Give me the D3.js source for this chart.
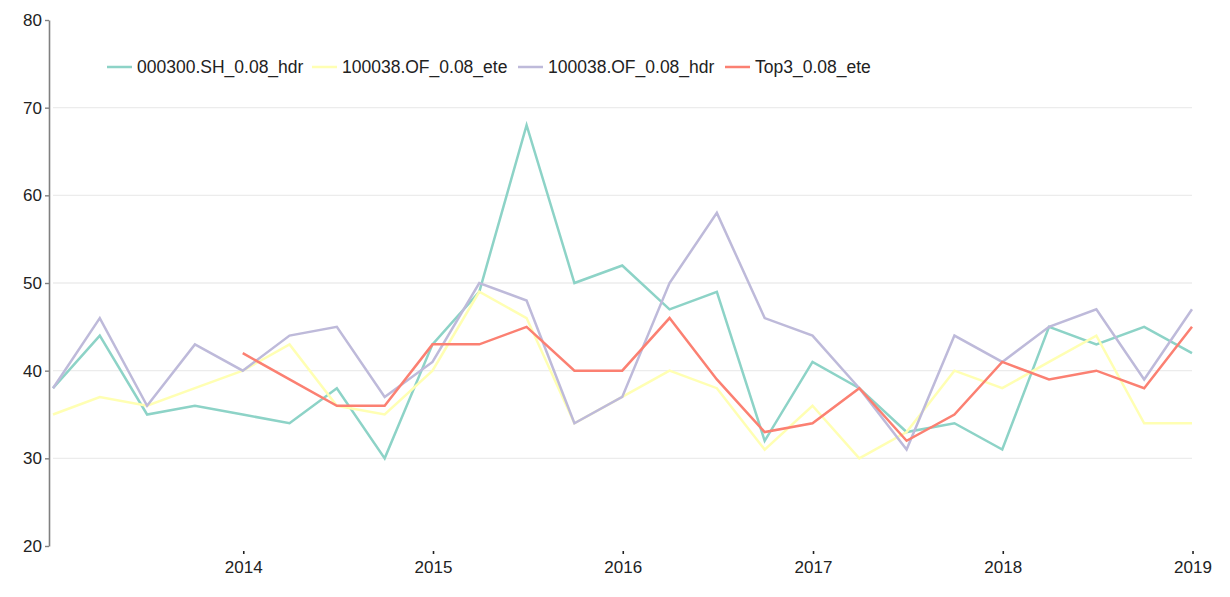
<!DOCTYPE html>
<html>
<head>
<meta charset="utf-8">
<script src="https://cdn.jsdelivr.net/npm/d3@7/dist/d3.min.js"></script>
<style>
  html, body { margin: 0; padding: 0; background: #fff; }
  svg { display: block; font-family: "Liberation Sans", Arial, sans-serif; }
</style>
</head>
<body>
<svg id="chart" width="1230" height="597"></svg>
<script>
// ---- data ----
const dates = [
  "2012-12-31","2013-03-31","2013-06-30","2013-09-30",
  "2013-12-31","2014-03-31","2014-06-30","2014-09-30",
  "2014-12-31","2015-03-31","2015-06-30","2015-09-30",
  "2015-12-31","2016-03-31","2016-06-30","2016-09-30",
  "2016-12-31","2017-03-31","2017-06-30","2017-09-30",
  "2017-12-31","2018-03-31","2018-06-30","2018-09-30",
  "2018-12-31"
];
const seriesNames = ["000300.SH_0.08_hdr", "100038.OF_0.08_ete", "100038.OF_0.08_hdr", "Top3_0.08_ete"];
const sh_hdr   = [38, 44, 35, 36, 35, 34, 38, 30, 43, 49, 68, 50, 52, 47, 49, 32, 41, 38, 33, 34, 31, 45, 43, 45, 42];
const of_ete   = [35, 37, 36, 38, 40, 43, 36, 35, 40, 49, 46, 34, 37, 40, 38, 31, 36, 30, 33, 40, 38, 41, 44, 34, 34];
const of_hdr   = [38, 46, 36, 43, 40, 44, 45, 37, 41, 50, 48, 34, 37, 50, 58, 46, 44, 38, 31, 44, 41, 45, 47, 39, 47];
const top3_ete = [null, null, null, null, 42, 39, 36, 36, 43, 43, 45, 40, 40, 46, 39, 33, 34, 38, 32, 35, 41, 39, 40, 38, 45];
const colors = ["#8DD3C7", "#FFFFB3", "#BEBADA", "#FB8072"];
const yTicks = [20, 30, 40, 50, 60, 70, 80];
const gridValues = [30, 40, 50, 60, 70];
const xTickYears = [2014, 2015, 2016, 2017, 2018, 2019];

// ---- chart ----
const parse = d3.timeParse("%Y-%m-%d");
const dts = dates.map(parse);
const allSeries = [sh_hdr, of_ete, of_hdr, top3_ete];

const svg = d3.select("#chart");
const x = d3.scaleTime().domain([dts[0], dts[dts.length - 1]]).range([53, 1192]);
const y = d3.scaleLinear().domain([20, 80]).range([546, 20]);

// gridlines
svg.append("g").selectAll("line").data(gridValues).join("line")
  .attr("x1", 53).attr("x2", 1192)
  .attr("y1", d => y(d)).attr("y2", d => y(d))
  .attr("stroke", "#ececec").attr("stroke-width", 1.4);

// y axis
const yAxis = svg.append("g").attr("transform", "translate(49,0)")
  .call(d3.axisLeft(y).tickValues(yTicks).tickSize(4).tickSizeOuter(0).tickPadding(3).tickFormat(d3.format("d")));
yAxis.select(".domain").attr("stroke", "#808080").attr("stroke-width", 1.6);
yAxis.selectAll(".tick line").attr("stroke", "#808080").attr("stroke-width", 1.4);
yAxis.selectAll(".tick text").attr("fill", "#222").style("font-size", "17px")
  .style("font-family", "'Liberation Sans', Arial, sans-serif");

// x axis (ticks only, no domain line)
const xAxis = svg.append("g").attr("transform", "translate(0,551)")
  .call(d3.axisBottom(x).tickValues(xTickYears.map(yr => new Date(yr, 0, 1)))
    .tickSize(3).tickPadding(7).tickFormat(d3.timeFormat("%Y")));
xAxis.select(".domain").remove();
xAxis.selectAll(".tick line").attr("stroke", "#222").attr("stroke-width", 1.6);
xAxis.selectAll(".tick text").attr("fill", "#222").style("font-size", "17px")
  .style("font-family", "'Liberation Sans', Arial, sans-serif");

// lines
const line = d3.line()
  .defined(d => d.v !== null)
  .x(d => x(d.t)).y(d => y(d.v));
allSeries.forEach((vals, i) => {
  svg.append("path")
    .datum(vals.map((v, j) => ({ t: dts[j], v })))
    .attr("fill", "none")
    .attr("stroke", colors[i])
    .attr("stroke-width", 2.5)
    .attr("stroke-linejoin", "miter")
    .attr("d", line);
});

// legend
const legendX = [107, 312, 518, 725];
const legend = svg.append("g").attr("transform", "translate(0,67)");
seriesNames.forEach((name, i) => {
  const g = legend.append("g").attr("transform", `translate(${legendX[i]},0)`);
  g.append("line").attr("x1", 0).attr("x2", 25).attr("y1", 0).attr("y2", 0)
    .attr("stroke", colors[i]).attr("stroke-width", 2.5);
  g.append("text").attr("x", 30).attr("y", 0).attr("dy", "0.35em")
    .attr("fill", "#222").style("font-size", "17.5px").text(name);
});
</script>
</body>
</html>
